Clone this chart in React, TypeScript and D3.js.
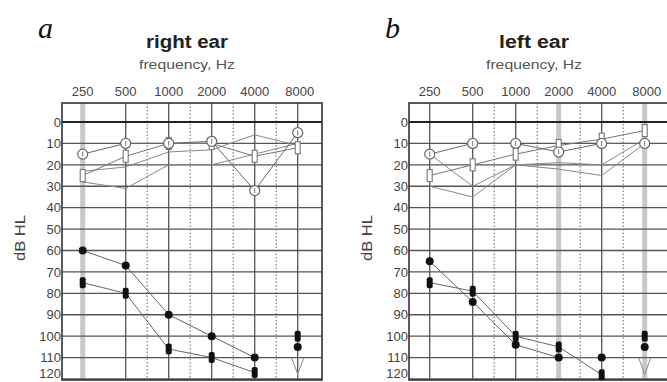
import React from 'react';
import * as d3 from 'd3';

const W = 667;
const H = 382;

const freqs = [250, 500, 1000, 2000, 4000, 8000];
const freqLabels = ['250', '500', '1000', '2000', '4000', '8000'];
const dbTicks = [0, 10, 20, 30, 40, 50, 60, 70, 80, 90, 100, 110, 120];

// right ear, upper group (all six frequencies)
const rightOpenCircle = [15, 10, 10, 9, 32, 5];
const rightOpenBracket = [25, 16, 10, 10, 16, 12];
const rightThinA = [28, 31, 20, 20, 15, 10];
const rightThinB = [23, 21, 14, 13, 6, 11];
// right ear, lower group (250 - 4000 Hz)
const rightDot = [60, 67, 90, 100, 110];
const rightBar = [75, 80, 106, 110, 117];
// right ear, 8000 Hz single marks
const rightBar8k = 100;
const rightDot8k = 105;
const rightNoResp8k = 114;

// left ear
const leftOpenCircle = [15, 10, 10, 14, 10, 10];
const leftOpenBracket = [25, 20, 15, 11, 8, 4];
const leftThinA = [15, 30, 20, 22, 25, 10];
const leftThinB = [30, 35, 20, 19, 20, 8];
const leftDot = [65, 84, 104, 110, 110];
const leftBar = [75, 79, 100, 105, 118];
const leftBar8k = 100;
const leftDot8k = 105;
const leftNoResp8k = 114;

const FRAME_TOP = 103;
const FRAME_BOTTOM = 380;
const sans = '"Liberation Sans", Arial, sans-serif';

type PanelProps = {
  dx: number;
  letter: string;
  title: string;
  titleWidth: number;
  openCircle: number[];
  openBracket: number[];
  thinA: number[];
  thinB: number[];
  dot: number[];
  bar: number[];
  bar8k: number;
  dot8k: number;
  noResp8k: number;
  shaded: number[];
};

const Panel = (p: PanelProps) => {
  const x = d3.scaleLog().base(2).domain([250, 8000]).range([82.7 + p.dx, 297.7 + p.dx]);
  const y = d3.scaleLinear().domain([0, 120]).range([122, 379]);
  const left = 62 + p.dx;
  const right = 322 + p.dx;
  const line = d3.line<number>().x((_, i) => x(freqs[i])).y(d => y(d));
  const mids = freqs.slice(1, 5).map(f => (x(f) + x(f * 2)) / 2);
  const cx = (left + right) / 2 - 5;

  return (
    <g>
      <text x={p.dx + 38} y={38} fontFamily='"Liberation Serif", "Times New Roman", serif'
        fontStyle="italic" fontSize={30} fill="#111">{p.letter}</text>
      <text x={cx} y={48} textAnchor="middle" fontFamily={sans} fontWeight="bold"
        fontSize={18} textLength={p.titleWidth} lengthAdjust="spacingAndGlyphs" fill="#222">{p.title}</text>
      <text x={cx} y={69} textAnchor="middle" fontFamily={sans} fontSize={12}
        textLength={96} lengthAdjust="spacingAndGlyphs" fill="#555">frequency, Hz</text>
      {freqs.map((f, i) => (
        <text key={f} x={x(f) + (f === 8000 ? 2 : 0)} y={96} textAnchor="middle" fontFamily={sans}
          fontSize={13} fill="#444">{freqLabels[i]}</text>
      ))}
      {dbTicks.map(d => (
        <text key={d} x={left - 1} y={Math.min(y(d), 373)} dy="0.36em" textAnchor="end"
          fontFamily={sans} fontSize={13} fill="#444">{d}</text>
      ))}
      <text transform={`translate(${p.dx + 25},238) rotate(-90)`} textAnchor="middle"
        fontFamily={sans} fontSize={14} textLength={46} lengthAdjust="spacingAndGlyphs"
        fill="#444">dB HL</text>

      {/* shaded octave columns */}
      {p.shaded.map(f => (
        <line key={'s' + f} x1={x(f)} x2={x(f)} y1={FRAME_TOP} y2={FRAME_BOTTOM}
          stroke="#c8c8c8" strokeWidth={5} />
      ))}
      {/* grid */}
      {dbTicks.slice(1).map(d => (
        <line key={'h' + d} x1={left} x2={right} y1={y(d)} y2={y(d)} stroke="#555" strokeWidth={1.3} />
      ))}
      {freqs.filter(f => !p.shaded.includes(f)).map(f => (
        <line key={'v' + f} x1={x(f)} x2={x(f)} y1={FRAME_TOP} y2={FRAME_BOTTOM}
          stroke="#555" strokeWidth={1.3} />
      ))}
      {mids.map((m, i) => (
        <line key={'m' + i} x1={m} x2={m} y1={FRAME_TOP} y2={FRAME_BOTTOM}
          stroke="#666" strokeWidth={1} strokeDasharray="1.5,2" />
      ))}
      <line x1={left} x2={right} y1={y(0)} y2={y(0)} stroke="#222" strokeWidth={2.2} />
      <rect x={left} y={FRAME_TOP} width={right - left} height={FRAME_BOTTOM - FRAME_TOP}
        fill="none" stroke="#333" strokeWidth={1.6} />

      {/* data lines */}
      {[p.thinA, p.thinB].map((s, i) => (
        <path key={'t' + i} d={line(s) || ''} fill="none" stroke="#888" strokeWidth={1} />
      ))}
      <path d={line(p.openBracket) || ''} fill="none" stroke="#777" strokeWidth={1} />
      <path d={line(p.openCircle) || ''} fill="none" stroke="#666" strokeWidth={1} />
      <path d={line(p.bar) || ''} fill="none" stroke="#666" strokeWidth={1} />
      <path d={line(p.dot) || ''} fill="none" stroke="#666" strokeWidth={1} />

      {/* markers */}
      {p.openBracket.map((d, i) => (
        <rect key={'b' + i} x={x(freqs[i]) - 2.5} y={y(d) - 6} width={5} height={12}
          fill="#fff" stroke="#777" strokeWidth={1.1} />
      ))}
      {p.openCircle.map((d, i) => (
        <g key={'c' + i}>
          <circle cx={x(freqs[i])} cy={y(d)} r={5} fill="#fff" stroke="#666" strokeWidth={1.2} />
          <line x1={x(freqs[i])} x2={x(freqs[i])} y1={y(d) - 2.5} y2={y(d) + 2.5} stroke="#777" strokeWidth={1} />
        </g>
      ))}
      {p.bar.map((d, i) => (
        <rect key={'fb' + i} x={x(freqs[i]) - 3} y={y(d) - 5.5} width={6} height={11} rx={2} fill="#111" />
      ))}
      {p.dot.map((d, i) => (
        <circle key={'fd' + i} cx={x(freqs[i])} cy={y(d)} r={4} fill="#111" />
      ))}
      <rect x={x(8000) - 3} y={y(p.bar8k) - 5.5} width={6} height={11} rx={2} fill="#111" />
      <circle cx={x(8000)} cy={y(p.dot8k)} r={4} fill="#111" />
      <path d={`M${x(8000) - 6},${y(p.noResp8k) - 8}L${x(8000)},${y(p.noResp8k) + 8}L${x(8000) + 6},${y(p.noResp8k) - 8}`}
        fill="none" stroke="#999" strokeWidth={1.2} />
    </g>
  );
};

const App = () => (
  <svg width={W} height={H} style={{ position: 'absolute', left: 0, top: 0, background: '#fff' }}>
    <rect width={W} height={H} fill="#fff" />
    <Panel dx={0} letter="a" title="right ear" titleWidth={82} openCircle={rightOpenCircle} openBracket={rightOpenBracket}
      thinA={rightThinA} thinB={rightThinB} dot={rightDot} bar={rightBar}
      bar8k={rightBar8k} dot8k={rightDot8k} noResp8k={rightNoResp8k} shaded={[250]} />
    <Panel dx={347} letter="b" title="left ear" titleWidth={70} openCircle={leftOpenCircle} openBracket={leftOpenBracket}
      thinA={leftThinA} thinB={leftThinB} dot={leftDot} bar={leftBar}
      bar8k={leftBar8k} dot8k={leftDot8k} noResp8k={leftNoResp8k} shaded={[2000, 8000]} />
  </svg>
);

export default App;
